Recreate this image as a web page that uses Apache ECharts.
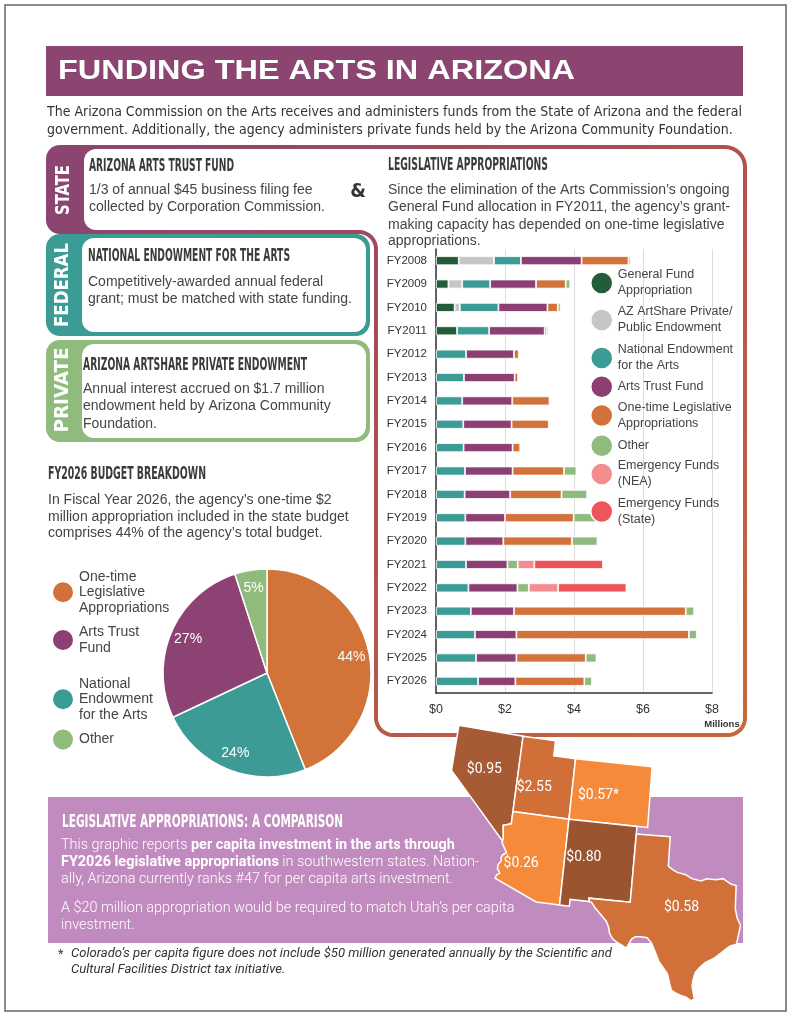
<!DOCTYPE html>
<html>
<head>
<meta charset="utf-8">
<script src="https://cdn.jsdelivr.net/npm/echarts@6/dist/echarts.min.js"></script>
<style>
html, body { margin: 0; padding: 0; background: #fff; }
#main { width: 791px; height: 1024px; }
</style>
</head>
<body>
<div id="main"></div>
<script>
// ---- data ----
var fiscalYears = ['FY2008','FY2009','FY2010','FY2011','FY2012','FY2013','FY2014','FY2015','FY2016','FY2017',
                   'FY2018','FY2019','FY2020','FY2021','FY2022','FY2023','FY2024','FY2025','FY2026'];
var generalFund   = [0.66, 0.36, 0.54, 0.61, null, null, null, null, null, null, null, null, null, null, null, null, null, null, null];
var artShare      = [1.02, 0.40, 0.15, null, null, null, null, null, null, null, null, null, null, null, null, null, null, null, null];
var neaGrant      = [0.78, 0.81, 1.12, 0.93, 0.87, 0.81, 0.76, 0.79, 0.80, 0.84, 0.83, 0.85, 0.85, 0.87, 0.94, 1.01, 1.13, 1.16, 1.22];
var artsTrust     = [1.76, 1.33, 1.42, 1.61, 1.39, 1.47, 1.45, 1.40, 1.42, 1.38, 1.32, 1.15, 1.10, 1.20, 1.42, 1.25, 1.20, 1.17, 1.08];
var oneTime       = [1.36, 0.86, 0.30, 0.06, 0.14, 0.10, 1.08, 1.08, 0.22, 1.49, 1.49, 1.99, 1.99, null, null, 4.98, 5.00, 2.01, 2.00];
var otherFunds    = [0.06, 0.13, 0.08, 0.05, null, null, null, null, null, 0.36, 0.74, 0.79, 0.74, 0.30, 0.33, 0.24, 0.23, 0.31, 0.22];
var emergencyNea  = [null, null, null, null, null, null, null, null, null, null, null, null, null, 0.48, 0.85, null, null, null, null];
var emergencyState= [null, null, null, null, null, null, null, null, null, null, null, null, null, 1.99, 1.98, null, null, null, null];

var fundNames  = ['General Fund Appropriation', 'AZ ArtShare Private/Public Endowment', 'National Endowment for the Arts',
                  'Arts Trust Fund', 'One-time Legislative Appropriations', 'Other', 'Emergency Funds (NEA)', 'Emergency Funds (State)'];
var fundLegend = ['General Fund\nAppropriation', 'AZ ArtShare Private/\nPublic Endowment', 'National Endowment\nfor the Arts',
                  'Arts Trust Fund', 'One-time Legislative\nAppropriations', 'Other', 'Emergency Funds\n(NEA)', 'Emergency Funds\n(State)'];
var fundColors = ['#245c3b', '#c6c6c6', '#3b9b95', '#8b3f72', '#d2713a', '#8fbb7c', '#f48c90', '#ef545a'];
var fundValues = [generalFund, artShare, neaGrant, artsTrust, oneTime, otherFunds, emergencyNea, emergencyState];

var xTicks = [0, 2, 4, 6, 8];

var budgetNames   = ['One-time Legislative Appropriations', 'National Endowment for the Arts', 'Arts Trust Fund', 'Other'];
var budgetLegend  = ['One-time\nLegislative\nAppropriations', 'National\nEndowment\nfor the Arts', 'Arts Trust\nFund', 'Other'];
var budgetShares  = [44, 24, 27, 5];
var budgetColors  = ['#d2733a', '#3c9b95', '#8c4272', '#8fbb7c'];

var stateNames    = ['Nevada', 'Utah', 'Colorado', 'Arizona', 'New Mexico', 'Texas'];
var perCapita     = [0.95, 2.55, 0.57, 0.26, 0.80, 0.58];
var perCapitaText = ['$0.95', '$2.55', '$0.57*', '$0.26', '$0.80', '$0.58'];
var stateColors   = ['#a65b34', '#d06f37', '#f58a3a', '#f58a3a', '#9a5430', '#d2703a'];

// simplified state outlines (lon, lat) and label anchor points
var stateShapes = {
  'Nevada': [[-120,42],[-114.04,42],[-114.05,37],[-114.05,36.19],[-114.74,36.01],[-114.57,35.15],[-114.63,35.0],[-120,39],[-120,42]],
  'Utah': [[-114.05,42],[-111.05,42],[-111.05,41],[-109.05,41],[-109.05,37],[-114.05,37],[-114.05,42]],
  'Colorado': [[-109.05,41],[-102.05,41],[-102.05,37],[-109.05,37],[-109.05,41]],
  'Arizona': [[-114.05,37],[-109.05,37],[-109.05,31.33],[-111.07,31.33],[-114.81,32.49],[-114.72,32.72],[-114.47,32.85],
              [-114.53,32.97],[-114.71,33.09],[-114.72,33.41],[-114.5,33.67],[-114.53,33.93],[-114.43,34.08],[-114.13,34.27],
              [-114.63,34.87],[-114.57,35.15],[-114.74,36.01],[-114.05,36.19],[-114.05,37]],
  'New Mexico': [[-109.05,37],[-103.0,37],[-103.0,36.5],[-103.06,32.0],[-106.62,32.0],[-106.53,31.78],[-108.21,31.78],
                 [-108.21,31.33],[-109.05,31.33],[-109.05,37]],
  'Texas': [[-103.0,36.5],[-100.0,36.5],[-100.0,34.56],[-99.7,34.4],[-99.2,34.2],[-98.5,34.1],[-97.9,33.85],[-97.1,33.73],
            [-96.6,33.9],[-95.8,33.86],[-95.2,33.96],[-94.5,33.63],[-94.04,33.55],[-94.04,32.0],[-93.85,31.4],[-93.55,30.95],
            [-93.7,30.3],[-93.84,29.7],[-94.4,29.55],[-94.7,29.35],[-95.15,29.05],[-95.6,28.75],[-96.4,28.4],[-96.85,28.05],
            [-97.2,27.7],[-97.35,27.2],[-97.4,26.8],[-97.15,25.95],[-97.45,25.85],[-97.85,26.05],[-98.3,26.15],[-98.75,26.3],
            [-99.1,26.45],[-99.25,26.85],[-99.5,27.5],[-99.9,27.9],[-100.3,28.3],[-100.65,28.9],[-101.0,29.45],[-101.4,29.77],
            [-101.95,29.8],[-102.4,29.78],[-102.7,29.6],[-102.95,29.2],[-103.1,28.97],[-103.5,29.15],[-103.9,29.3],[-104.3,29.5],
            [-104.6,29.85],[-104.7,30.2],[-104.95,30.6],[-105.4,30.95],[-106.0,31.4],[-106.35,31.75],[-106.53,31.78],[-106.62,32.0],
            [-103.06,32.0],[-103.0,36.5]]
};
var stateLabelPoints = {
  'Nevada': [-117.1, 39.45], 'Utah': [-112.45, 38.8], 'Colorado': [-106.65, 38.8],
  'Arizona': [-112.75, 33.7], 'New Mexico': [-107.4, 34.65], 'Texas': [-98.65, 31.95]
};

echarts.registerMap('southwest', {
  type: 'FeatureCollection',
  features: stateNames.map(function (n) {
    return { type: 'Feature', properties: { name: n, cp: stateLabelPoints[n] },
             geometry: { type: 'Polygon', coordinates: [stateShapes[n]] } };
  })
});

// simple conic projection so the northern borders tilt like the original
var CN = 0.3, CL0 = -87, CP1 = 39 * Math.PI / 180, CSTRETCH = 1.062;
var CG = Math.cos(CP1) / CN + CP1, CRHO0 = CG - 36 * Math.PI / 180;
function conicProject(p) {
  var th = CN * (p[0] - CL0) * Math.PI / 180, rho = CG - p[1] * Math.PI / 180;
  return [rho * Math.sin(th), (rho * Math.cos(th) - CRHO0) * CSTRETCH];
}
function conicUnproject(q) {
  var yy = q[1] / CSTRETCH + CRHO0;
  var th = Math.atan2(q[0], yy), rho = Math.hypot(q[0], yy);
  return [CL0 + th / CN * 180 / Math.PI, (CG - rho) * 180 / Math.PI];
}

// ---- text helpers ----
var measureCtx = document.createElement('canvas').getContext('2d');
function fontOf(size, family, weight, style) {
  return (style || 'normal') + ' ' + (weight || 'normal') + ' ' + size + 'px ' + family;
}
function widthOf(s, font) { measureCtx.font = font; return measureCtx.measureText(s).width; }

function textEl(s, x, y, o) {
  var font = fontOf(o.size, o.family, o.weight, o.style);
  var sx = o.width ? o.width / widthOf(s, font) : (o.scale || 1);
  return {
    type: 'text', x: x, y: y, scaleX: sx, rotation: o.rotation || 0, z: 10,
    style: { text: s, font: font, fill: o.color || '#3a3a3a', align: o.align || 'left', verticalAlign: 'middle' }
  };
}

// rounded frame outline as a polyline
function frameOutline() {
  var pts = [];
  function corner(cx, cy, r, a0, a1) {
    for (var k = 0; k <= 8; k++) {
      var a = (a0 + (a1 - a0) * k / 8) * Math.PI / 180;
      pts.push([cx + r * Math.cos(a), cy + r * Math.sin(a)]);
    }
  }
  pts.push([84, 147]);
  corner(725, 167, 20, -90, 0);
  corner(728, 718, 17, 0, 90);
  corner(393, 718, 17, 90, 180);
  corner(359, 249, 17, 0, -90);
  pts.push([84, 232]);
  return pts;
}

var HEAD = "'Liberation Sans Narrow', 'DejaVu Sans Condensed', sans-serif";
var BODY = "'Liberation Sans', Arial, sans-serif";
var NARROW = "'Liberation Sans Narrow', 'DejaVu Sans Condensed', sans-serif";
var ROBO = "Roboto, 'Liberation Sans', sans-serif";

var bodyScale = 264 / widthOf('grant; must be matched with state funding.', fontOf(14, BODY));
var introLine1 = 'The Arizona Commission on the Arts receives and administers funds from the State of Arizona and the federal';
var introScale = 695 / widthOf(introLine1, fontOf(14.5, NARROW));
var purpleScale = 392 / widthOf('ally, Arizona currently ranks #47 for per capita arts investment.', fontOf(14, ROBO, 300));
var footLine1 = 'Colorado\u2019s per capita figure does not include $50 million generated annually by the Scientific and';
var footScale = 541 / widthOf(footLine1, fontOf(12.5, ROBO, 'normal', 'italic'));

function body(s, x, y) { return textEl(s, x, y, { size: 14, family: BODY, scale: bodyScale, color: '#444' }); }
function head(s, x, y, w, c) { return textEl(s, x, y, { size: 18, family: HEAD, weight: 'bold', width: w, color: c || '#3a3a3a' }); }
function tab(s, x, y, h) { return textEl(s, x, y, { size: 19, family: HEAD, weight: 'bold', width: h, color: '#fff', align: 'center', rotation: Math.PI / 2 }); }

var frameGradient = {
  type: 'linear', x: 0, y: 0, x2: 1, y2: 1,
  colorStops: [{ offset: 0, color: '#8b4570' }, { offset: 0.4, color: '#a84b57' }, { offset: 1, color: '#c8693a' }]
};

var elements = [
  { type: 'rect', shape: { x: 5, y: 5, width: 781, height: 1006 }, style: { fill: 'none', stroke: '#666', lineWidth: 1.5 } },
  { type: 'rect', shape: { x: 46, y: 46, width: 697, height: 50 }, style: { fill: '#8b4570' } },
  textEl('FUNDING THE ARTS IN ARIZONA', 58, 72, { size: 27, family: BODY, weight: 'bold', width: 517, color: '#fff' }),
  textEl(introLine1, 47, 112, { size: 14.5, family: NARROW, scale: introScale, color: '#333' }),
  textEl('government. Additionally, the agency administers private funds held by the Arizona Community Foundation.', 47, 130,
         { size: 14.5, family: NARROW, scale: introScale, color: '#333' }),

  // state box
  { type: 'rect', shape: { x: 46, y: 145, width: 70, height: 89, r: [14, 0, 0, 14] }, style: { fill: '#8b4570' } },
  { type: 'rect', shape: { x: 84, y: 149, width: 292, height: 81, r: [12, 0, 0, 12] }, style: { fill: '#fff' } },
  // big frame around the legislative appropriations
  { type: 'polyline', shape: { points: frameOutline() }, style: { fill: 'none', stroke: frameGradient, lineWidth: 4 } },
  tab('STATE', 64, 190, 50),
  head('ARIZONA ARTS TRUST FUND', 89, 166, 145),
  body('1/3 of annual $45 business filing fee', 89, 190),
  body('collected by Corporation Commission.', 89, 207),
  textEl('&', 358, 192, { size: 20, family: HEAD, weight: 'bold', color: '#333', align: 'center' }),

  // federal box
  { type: 'rect', shape: { x: 46, y: 234, width: 324, height: 102, r: 14 }, style: { fill: '#3b9b95' } },
  { type: 'rect', shape: { x: 82, y: 238, width: 284, height: 94, r: 12 }, style: { fill: '#fff' } },
  tab('FEDERAL', 63, 285, 84),
  head('NATIONAL ENDOWMENT FOR THE ARTS', 88, 256, 202),
  body('Competitively-awarded annual federal', 88, 282),
  body('grant; must be matched with state funding.', 88, 299),

  // private box
  { type: 'rect', shape: { x: 46, y: 340, width: 324, height: 102, r: 14 }, style: { fill: '#8fbb7c' } },
  { type: 'rect', shape: { x: 82, y: 344, width: 284, height: 94, r: 12 }, style: { fill: '#fff' } },
  tab('PRIVATE', 63, 390, 85),
  head('ARIZONA ARTSHARE PRIVATE ENDOWMENT', 83, 365, 224),
  body('Annual interest accrued on $1.7 million', 83, 389),
  body('endowment held by Arizona Community', 83, 406),
  body('Foundation.', 83, 424),

  // legislative appropriations text
  head('LEGISLATIVE APPROPRIATIONS', 388, 165, 160),
  body('Since the elimination of the Arts Commission\u2019s ongoing', 388, 190),
  body('General Fund allocation in FY2011, the agency\u2019s grant-', 388, 207),
  body('making capacity has depended on one-time legislative', 388, 225),
  body('appropriations.', 388, 241),
  textEl('Millions', 722, 724, { size: 9.5, family: BODY, weight: 'bold', color: '#333', align: 'center' }),

  // budget breakdown text
  head('FY2026 BUDGET BREAKDOWN', 48, 474, 158),
  body('In Fiscal Year 2026, the agency\u2019s one-time $2', 48, 500),
  body('million appropriation included in the state budget', 48, 517),
  body('comprises 44% of the agency\u2019s total budget.', 48, 533),

  // comparison box
  { type: 'rect', shape: { x: 48, y: 797, width: 695, height: 146 }, style: { fill: '#c28bbf' }, z: 1 },
  head('LEGISLATIVE APPROPRIATIONS: A COMPARISON', 62, 822, 281, '#fff'),
  {
    type: 'text', x: 61, y: 845, scaleX: purpleScale, z: 10,
    style: { text: 'This graphic reports {b|per capita investment in the arts through}', fontSize: 14, fontFamily: ROBO, fontWeight: 300,
             fill: '#fff', verticalAlign: 'middle', rich: { b: { fontSize: 14, fontFamily: ROBO, fontWeight: 'bold', fill: '#fff' } } }
  },
  {
    type: 'text', x: 61, y: 862, scaleX: purpleScale, z: 10,
    style: { text: '{b|FY2026 legislative appropriations} in southwestern states. Nation-', fontSize: 14, fontFamily: ROBO, fontWeight: 300,
             fill: '#fff', verticalAlign: 'middle', rich: { b: { fontSize: 14, fontFamily: ROBO, fontWeight: 'bold', fill: '#fff' } } }
  },
  textEl('ally, Arizona currently ranks #47 for per capita arts investment.', 61, 879, { size: 14, family: ROBO, weight: 300, scale: purpleScale, color: '#fff' }),
  textEl('A $20 million appropriation would be required to match Utah\u2019s per capita', 61, 908, { size: 14, family: ROBO, weight: 300, scale: purpleScale, color: '#fff' }),
  textEl('investment.', 61, 925, { size: 14, family: ROBO, weight: 300, scale: purpleScale, color: '#fff' }),

  // footnote
  textEl('*', 58, 955, { size: 12.5, family: ROBO, color: '#333' }),
  textEl(footLine1, 71, 954, { size: 12.5, family: ROBO, style: 'italic', scale: footScale, color: '#333' }),
  textEl('Cultural Facilities District tax initiative.', 71, 970, { size: 12.5, family: ROBO, style: 'italic', scale: footScale, color: '#333' })
];

// ---- series ----
var barSeries = fundNames.map(function (name, i) {
  return {
    name: name, type: 'bar', stack: 'funds', barWidth: 9,
    itemStyle: { color: fundColors[i], borderColor: '#fff', borderWidth: 0.8 },
    emphasis: { disabled: true },
    data: fundValues[i]
  };
});

var pieData = budgetNames.map(function (n, i) {
  return { name: n, value: budgetShares[i], itemStyle: { color: budgetColors[i] } };
});

// bar legend: one small legend per entry so the uneven spacing of the original can be kept
var fundLegendCenters = [283, 320, 358, 386, 415.5, 445, 474, 511.5];
var fundLegends = fundNames.map(function (n, i) {
  var twoLines = fundLegend[i].indexOf('\n') >= 0;
  return {
    data: [n], orient: 'vertical', left: 590, top: fundLegendCenters[i] - (twoLines ? 16 : 11), padding: 0,
    itemWidth: 22, itemHeight: 22, icon: 'circle', selectedMode: false,
    itemStyle: { borderColor: '#fff', borderWidth: 1.5 },
    formatter: function () { return fundLegend[i]; },
    textStyle: { fontSize: 12.5, lineHeight: 16, color: '#444', fontFamily: BODY }
  };
});

function budgetLegendLabel(n) { return budgetLegend[budgetNames.indexOf(n)]; }
var pieLegendBase = {
  orient: 'vertical', left: 51, padding: 0, itemWidth: 22, itemHeight: 22, icon: 'circle', selectedMode: false,
  formatter: budgetLegendLabel,
  textStyle: { fontSize: 14, lineHeight: 15.5, color: '#444', fontFamily: BODY }
};

var option = {
  animation: false,
  textStyle: { fontFamily: BODY },
  graphic: { elements: elements },
  legend: fundLegends.concat([
    echarts.util.extend({ data: [budgetNames[0], budgetNames[2]], top: 569, itemGap: 9 }, pieLegendBase),
    echarts.util.extend({ data: [budgetNames[1], budgetNames[3]], top: 676, itemGap: 5 }, pieLegendBase)
  ]),
  grid: { left: 436, top: 249, width: 276, height: 444 },
  xAxis: {
    type: 'value', min: xTicks[0], max: xTicks[xTicks.length - 1], interval: 2,
    axisLine: { show: true, lineStyle: { color: '#333', width: 1.5 } },
    axisTick: { show: false },
    splitLine: { lineStyle: { color: '#dcdcdc' } },
    axisLabel: { formatter: '${value}', fontSize: 12.5, color: '#333', margin: 10 }
  },
  yAxis: {
    type: 'category', data: fiscalYears, inverse: true,
    axisLine: { lineStyle: { color: '#333', width: 1.5 } },
    axisTick: { show: false },
    axisLabel: { fontSize: 11.5, color: '#333', margin: 9 }
  },
  series: barSeries.concat([
    {
      type: 'pie', center: [267, 673], radius: 104, startAngle: 90, clockwise: true, silent: true,
      label: { show: false }, labelLine: { show: false },
      itemStyle: { borderColor: '#fff', borderWidth: 1.5 },
      data: pieData
    },
    {
      type: 'pie', center: [267, 673], radius: [62, 104], startAngle: 90, clockwise: true, silent: true,
      label: { show: true, position: 'inside', color: '#fff', fontSize: 14, formatter: '{c}%' },
      labelLine: { show: false },
      data: budgetNames.map(function (n, i) { return { name: n, value: budgetShares[i], itemStyle: { color: 'rgba(0,0,0,0)' } }; })
    },
    {
      type: 'map', map: 'southwest', z: 5, silent: true, roam: false, showLegendSymbol: false,
      projection: { project: conicProject, unproject: conicUnproject },
      layoutCenter: [596, 863], layoutSize: 289,
      itemStyle: { borderColor: '#fff', borderWidth: 1.5 },
      label: {
        show: true, color: '#fff', fontSize: 14, fontFamily: ROBO,
        formatter: function (p) { return perCapitaText[stateNames.indexOf(p.name)]; }
      },
      emphasis: { disabled: true }, select: { disabled: true },
      data: stateNames.map(function (n, i) { return { name: n, value: perCapita[i], itemStyle: { areaColor: stateColors[i] } }; })
    }
  ])
};

var chart = echarts.init(document.getElementById('main'));
chart.setOption(option);
</script>
</body>
</html>
